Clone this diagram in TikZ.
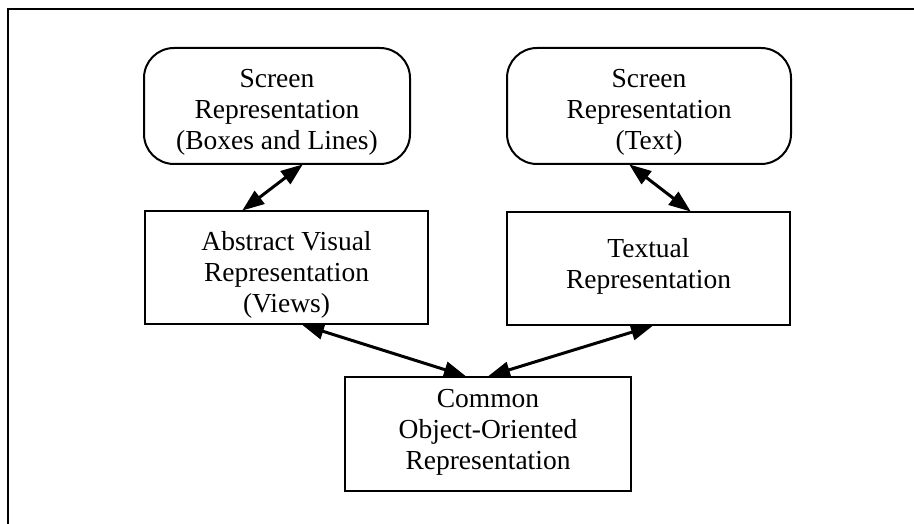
\documentclass[tikz,border=0pt]{standalone}
\usepackage{fontspec}
\setmainfont{Liberation Serif}
\usetikzlibrary{arrows.meta}
\begin{document}
\begin{tikzpicture}[x=1pt,y=-1pt,
  every node/.style={inner sep=0pt},
  caption/.style={font=\fontsize{27.5}{31}\selectfont, align=center},
  roundbox/.style={draw, line width=2pt, rounded corners=30pt},
  plainbox/.style={draw, line width=2pt},
  link/.style={line width=3pt, {Triangle[length=22pt,width=16pt]}-{Triangle[length=22pt,width=16pt]}, shorten <=-1pt, shorten >=-1pt},
  frameline/.style={line width=1.6pt}]
  \useasboundingbox (0,0) rectangle (914,524);
  % page frame (open to the right and bottom)
  \draw[frameline] (8,524) -- (8,9) -- (914,9);

  % boxes
  \node[roundbox, minimum width=266pt, minimum height=116pt] (sr1) at (277,106) {};
  \node[roundbox, minimum width=284pt, minimum height=116pt] (sr2) at (649,106) {};
  \node[plainbox, minimum width=283pt, minimum height=113pt] (av) at (286.5,267.5) {};
  \node[plainbox, minimum width=283pt, minimum height=113pt] (tr) at (648.5,268.5) {};
  \node[plainbox, minimum width=286pt, minimum height=114pt] (co) at (488,434) {};

  % box texts
  \node[caption] (sr1t) at ([yshift=-6pt]sr1.center) {Screen\\Representation\\(Boxes and Lines)};
  \node[caption] (sr2t) at ([yshift=-6pt]sr2.center) {Screen\\Representation\\(Text)};
  \node[caption] (avt) at ([yshift=-7pt]av.center) {Abstract Visual\\Representation\\(Views)};
  \node[caption] (trt) at ([yshift=2pt]tr.center) {Textual\\Representation};
  \node[caption] (cot) at ([yshift=2pt]co.center) {Common\\Object-Oriented\\Representation};

  % connectors
  \draw[link] ([xshift=25pt]sr1.south) -- ([xshift=-43.5pt]av.north);
  \draw[link] ([xshift=-19pt]sr2.south) -- ([xshift=41.5pt]tr.north);
  \draw[link] ([xshift=16.5pt]av.south) -- ([xshift=-23pt]co.north);
  \draw[link] ([xshift=3.5pt]tr.south) -- ([xshift=1pt]co.north);
\end{tikzpicture}
\end{document}
